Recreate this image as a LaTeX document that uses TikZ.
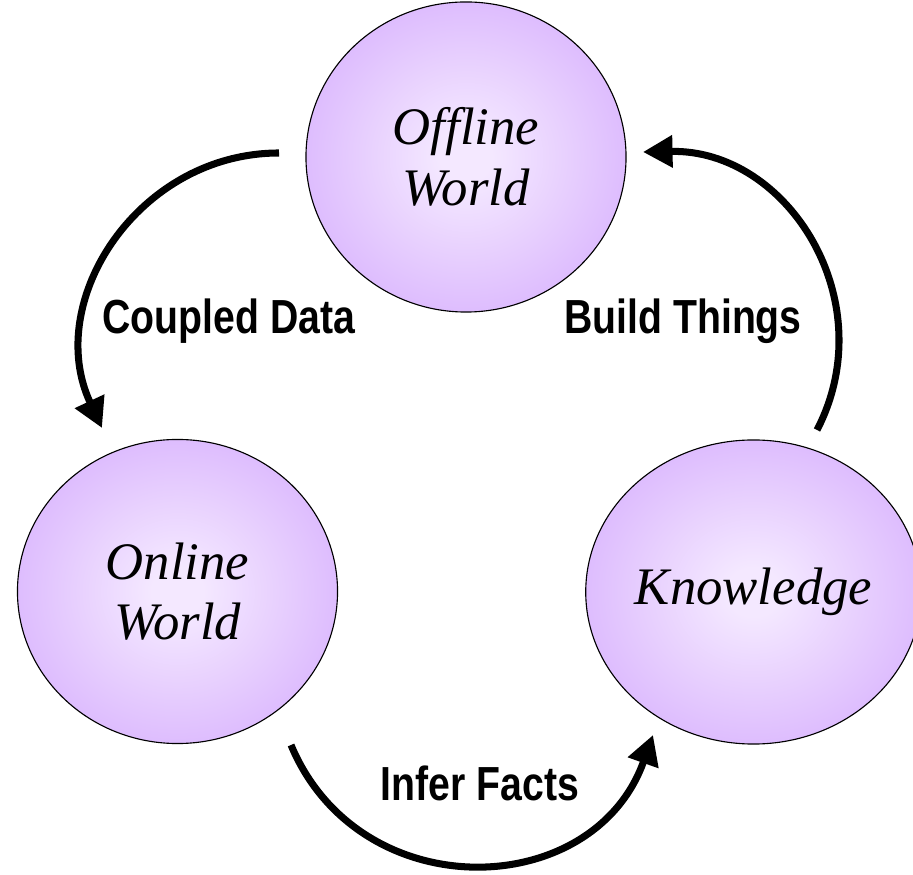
\documentclass[tikz,border=0pt]{standalone}
\usepackage{fontspec}
\setmainfont{Liberation Serif}
\newfontfamily\tagfont[FakeStretch=0.82]{Liberation Sans}
\usetikzlibrary{arrows.meta, shapes.geometric}

\definecolor{bubblein}{RGB}{244,232,255}
\definecolor{bubbleout}{RGB}{210,166,253}
\pgfdeclareradialshading{bubble}{\pgfpoint{0bp}{0bp}}{color(0bp)=(bubblein); color(4bp)=(bubblein); color(36bp)=(bubbleout); color(50bp)=(bubbleout)}

\begin{document}
\begin{tikzpicture}
        [x=0.025cm, y=0.025cm,
         world/.style={draw, shape=ellipse, shading=bubble, line width=0.8pt, inner sep=0,
                       minimum width=8cm, minimum height=7.6cm, align=center,
                       font=\fontsize{37.5}{43}\selectfont\itshape},
         flow/.style={line width=5pt, -{Triangle[length=21pt,width=22pt]}},
         tag/.style={anchor=base, font=\tagfont\bfseries\fontsize{34}{40}\selectfont}]

        \useasboundingbox (0,0) rectangle (913,874);

        \node[world, minimum height=7.75cm] (offline) at (466,717) {Offline\\World};
        \node[world] (online) at (177.5,282.5) {Online\\World};
        \node[world] (know) at (753.5,282) {Knowledge};

        \coordinate (cd0) at (279,721);
        \coordinate (cd1) at (102,446);
        \coordinate (bt0) at (817,444);
        \coordinate (bt1) at (643,722);
        \coordinate (if0) at (291,129);
        \coordinate (if1) at (653,139);

        \draw[flow] (cd0) to[out=180, in=115, looseness=1.1] (cd1);
        \draw[flow] (bt0) to[out=62.6, in=1.2, looseness=1.13] (bt1);
        \draw[flow] (if0) to[out=292.7, in=250.4, looseness=1.25] (if1);

        \node[tag] (cdtag) at (229,540) {Coupled Data};
        \node[tag] (bttag) at (683,540) {Build Things};
        \node[tag] (iftag) at (480,73) {Infer Facts};
      \end{tikzpicture}
\end{document}
